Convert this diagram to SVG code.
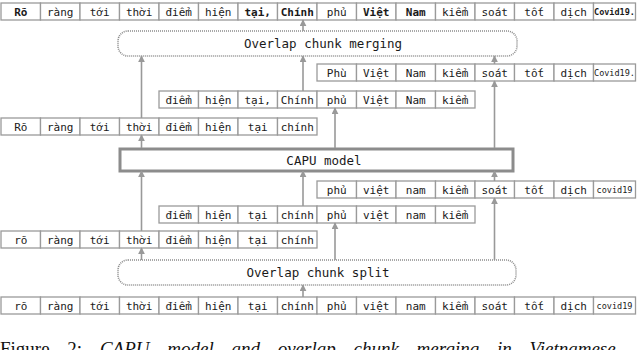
<svg xmlns="http://www.w3.org/2000/svg" width="640" height="350" viewBox="0 0 640 350">
<style>
.cell rect{fill:#fff;stroke:#9a9a9a;stroke-width:1.3}
.cell text{font-family:"DejaVu Sans Mono","Liberation Mono",monospace;font-size:11px;fill:#1a1a1a;text-anchor:middle}
.cell text.b{font-weight:bold}
.cell text.s{font-size:8.5px}
.dot{fill:#fff;stroke:#8c8c8c;stroke-width:1.6;stroke-dasharray:1 1}
.lbl{font-family:"DejaVu Sans Mono","Liberation Mono",monospace;font-size:12.5px;fill:#1a1a1a;text-anchor:middle}
.conn line{stroke:#999;stroke-width:1.6;marker-end:url(#ah)}
.cap{font-family:"Liberation Serif",serif;font-size:19px;fill:#111;word-spacing:13px}
</style>
<defs>
<marker id="ah" viewBox="0 0 10 10" refX="9" refY="5" markerWidth="7" markerHeight="7" markerUnits="userSpaceOnUse" orient="auto">
<path d="M0,0 L10,5 L0,10 z" fill="#999"/>
</marker>
</defs>

<g id="row-top" class="cell">
<rect x="1" y="3" width="39.5" height="17"/><text x="20.75" y="15.5" class="b">Rõ</text>
<rect x="40.5" y="3" width="39.5" height="17"/><text x="60.25" y="15.5">ràng</text>
<rect x="80" y="3" width="39.5" height="17"/><text x="99.75" y="15.5">tới</text>
<rect x="119.5" y="3" width="39.5" height="17"/><text x="139.25" y="15.5">thời</text>
<rect x="159" y="3" width="39.5" height="17"/><text x="178.75" y="15.5">điểm</text>
<rect x="198.5" y="3" width="39.5" height="17"/><text x="218.25" y="15.5">hiện</text>
<rect x="238" y="3" width="39.5" height="17"/><text x="257.75" y="15.5" class="b">tại,</text>
<rect x="277.5" y="3" width="39.5" height="17"/><text x="297.25" y="15.5" class="b">Chính</text>
<rect x="317" y="3" width="39.5" height="17"/><text x="336.75" y="15.5">phủ</text>
<rect x="356.5" y="3" width="39.5" height="17"/><text x="376.25" y="15.5" class="b">Việt</text>
<rect x="396" y="3" width="39.5" height="17"/><text x="415.75" y="15.5" class="b">Nam</text>
<rect x="435.5" y="3" width="39.5" height="17"/><text x="455.25" y="15.5">kiểm</text>
<rect x="475" y="3" width="39.5" height="17"/><text x="494.75" y="15.5">soát</text>
<rect x="514.5" y="3" width="39.5" height="17"/><text x="534.25" y="15.5">tốt</text>
<rect x="554" y="3" width="39.5" height="17"/><text x="573.75" y="15.5">dịch</text>
<rect x="593.5" y="3" width="42" height="17"/><text x="614.5" y="15" class="b s">Covid19.</text>
</g>

<g id="merging">
<rect class="dot" x="118" y="31" width="399" height="25" rx="10"/>
<text class="lbl" x="323" y="48">Overlap chunk merging</text>
</g>

<g id="row-chunk2-out" class="cell">
<rect x="317" y="64" width="39.5" height="17"/><text x="336.75" y="76.5">Phù</text>
<rect x="356.5" y="64" width="39.5" height="17"/><text x="376.25" y="76.5">Việt</text>
<rect x="396" y="64" width="39.5" height="17"/><text x="415.75" y="76.5">Nam</text>
<rect x="435.5" y="64" width="39.5" height="17"/><text x="455.25" y="76.5">kiểm</text>
<rect x="475" y="64" width="39.5" height="17"/><text x="494.75" y="76.5">soát</text>
<rect x="514.5" y="64" width="39.5" height="17"/><text x="534.25" y="76.5">tốt</text>
<rect x="554" y="64" width="39.5" height="17"/><text x="573.75" y="76.5">dịch</text>
<rect x="593.5" y="64" width="42" height="17"/><text x="614.5" y="76" class="s">Covid19.</text>
</g>

<g id="row-chunk1-out" class="cell">
<rect x="159" y="91" width="39.5" height="17"/><text x="178.75" y="103.5">điểm</text>
<rect x="198.5" y="91" width="39.5" height="17"/><text x="218.25" y="103.5">hiện</text>
<rect x="238" y="91" width="39.5" height="17"/><text x="257.75" y="103.5">tại,</text>
<rect x="277.5" y="91" width="39.5" height="17"/><text x="297.25" y="103.5">Chính</text>
<rect x="317" y="91" width="39.5" height="17"/><text x="336.75" y="103.5">phủ</text>
<rect x="356.5" y="91" width="39.5" height="17"/><text x="376.25" y="103.5">Việt</text>
<rect x="396" y="91" width="39.5" height="17"/><text x="415.75" y="103.5">Nam</text>
<rect x="435.5" y="91" width="39.5" height="17"/><text x="455.25" y="103.5">kiểm</text>
</g>

<g id="row-chunk0-out" class="cell">
<rect x="1" y="118" width="39.5" height="17"/><text x="20.75" y="130.5">Rõ</text>
<rect x="40.5" y="118" width="39.5" height="17"/><text x="60.25" y="130.5">ràng</text>
<rect x="80" y="118" width="39.5" height="17"/><text x="99.75" y="130.5">tới</text>
<rect x="119.5" y="118" width="39.5" height="17"/><text x="139.25" y="130.5">thời</text>
<rect x="159" y="118" width="39.5" height="17"/><text x="178.75" y="130.5">điểm</text>
<rect x="198.5" y="118" width="39.5" height="17"/><text x="218.25" y="130.5">hiện</text>
<rect x="238" y="118" width="39.5" height="17"/><text x="257.75" y="130.5">tại</text>
<rect x="277.5" y="118" width="39.5" height="17"/><text x="297.25" y="130.5">chính</text>
</g>

<g id="capu">
<rect x="120" y="149" width="393" height="22" fill="#fff" stroke="#8c8c8c" stroke-width="3"/>
<text class="lbl" x="324" y="164.5">CAPU model</text>
</g>

<g id="row-chunk2-in" class="cell">
<rect x="317" y="181" width="39.5" height="17"/><text x="336.75" y="193.5">phủ</text>
<rect x="356.5" y="181" width="39.5" height="17"/><text x="376.25" y="193.5">việt</text>
<rect x="396" y="181" width="39.5" height="17"/><text x="415.75" y="193.5">nam</text>
<rect x="435.5" y="181" width="39.5" height="17"/><text x="455.25" y="193.5">kiểm</text>
<rect x="475" y="181" width="39.5" height="17"/><text x="494.75" y="193.5">soát</text>
<rect x="514.5" y="181" width="39.5" height="17"/><text x="534.25" y="193.5">tốt</text>
<rect x="554" y="181" width="39.5" height="17"/><text x="573.75" y="193.5">dịch</text>
<rect x="593.5" y="181" width="42" height="17"/><text x="614.5" y="193" class="s">covid19</text>
</g>

<g id="row-chunk1-in" class="cell">
<rect x="159" y="206" width="39.5" height="17"/><text x="178.75" y="218.5">điểm</text>
<rect x="198.5" y="206" width="39.5" height="17"/><text x="218.25" y="218.5">hiện</text>
<rect x="238" y="206" width="39.5" height="17"/><text x="257.75" y="218.5">tại</text>
<rect x="277.5" y="206" width="39.5" height="17"/><text x="297.25" y="218.5">chính</text>
<rect x="317" y="206" width="39.5" height="17"/><text x="336.75" y="218.5">phủ</text>
<rect x="356.5" y="206" width="39.5" height="17"/><text x="376.25" y="218.5">việt</text>
<rect x="396" y="206" width="39.5" height="17"/><text x="415.75" y="218.5">nam</text>
<rect x="435.5" y="206" width="39.5" height="17"/><text x="455.25" y="218.5">kiểm</text>
</g>

<g id="row-chunk0-in" class="cell">
<rect x="1" y="231" width="39.5" height="17"/><text x="20.75" y="243.5">rõ</text>
<rect x="40.5" y="231" width="39.5" height="17"/><text x="60.25" y="243.5">ràng</text>
<rect x="80" y="231" width="39.5" height="17"/><text x="99.75" y="243.5">tới</text>
<rect x="119.5" y="231" width="39.5" height="17"/><text x="139.25" y="243.5">thời</text>
<rect x="159" y="231" width="39.5" height="17"/><text x="178.75" y="243.5">điểm</text>
<rect x="198.5" y="231" width="39.5" height="17"/><text x="218.25" y="243.5">hiện</text>
<rect x="238" y="231" width="39.5" height="17"/><text x="257.75" y="243.5">tại</text>
<rect x="277.5" y="231" width="39.5" height="17"/><text x="297.25" y="243.5">chính</text>
</g>

<g id="split">
<rect class="dot" x="118" y="260" width="398" height="25" rx="10"/>
<text class="lbl" x="318" y="277">Overlap chunk split</text>
</g>

<g id="row-input" class="cell">
<rect x="1" y="297" width="39.5" height="17"/><text x="20.75" y="309.5">rõ</text>
<rect x="40.5" y="297" width="39.5" height="17"/><text x="60.25" y="309.5">ràng</text>
<rect x="80" y="297" width="39.5" height="17"/><text x="99.75" y="309.5">tới</text>
<rect x="119.5" y="297" width="39.5" height="17"/><text x="139.25" y="309.5">thời</text>
<rect x="159" y="297" width="39.5" height="17"/><text x="178.75" y="309.5">điểm</text>
<rect x="198.5" y="297" width="39.5" height="17"/><text x="218.25" y="309.5">hiện</text>
<rect x="238" y="297" width="39.5" height="17"/><text x="257.75" y="309.5">tại</text>
<rect x="277.5" y="297" width="39.5" height="17"/><text x="297.25" y="309.5">chính</text>
<rect x="317" y="297" width="39.5" height="17"/><text x="336.75" y="309.5">phủ</text>
<rect x="356.5" y="297" width="39.5" height="17"/><text x="376.25" y="309.5">việt</text>
<rect x="396" y="297" width="39.5" height="17"/><text x="415.75" y="309.5">nam</text>
<rect x="435.5" y="297" width="39.5" height="17"/><text x="455.25" y="309.5">kiểm</text>
<rect x="475" y="297" width="39.5" height="17"/><text x="494.75" y="309.5">soát</text>
<rect x="514.5" y="297" width="39.5" height="17"/><text x="534.25" y="309.5">tốt</text>
<rect x="554" y="297" width="39.5" height="17"/><text x="573.75" y="309.5">dịch</text>
<rect x="593.5" y="297" width="42" height="17"/><text x="614.5" y="309" class="s">covid19</text>
</g>

<g id="connectors" class="conn">
<line x1="303" y1="31" x2="303" y2="20"/>
<line x1="141.5" y1="118" x2="141.5" y2="56"/>
<line x1="303" y1="91" x2="303" y2="56"/>
<line x1="494.5" y1="64" x2="494.5" y2="56"/>
<line x1="141.5" y1="148" x2="141.5" y2="135"/>
<line x1="335" y1="148" x2="335" y2="108"/>
<line x1="494.5" y1="148" x2="494.5" y2="81"/>
<line x1="141.5" y1="231" x2="141.5" y2="171"/>
<line x1="303" y1="206" x2="303" y2="171"/>
<line x1="494.5" y1="181" x2="494.5" y2="171"/>
<line x1="141.5" y1="260" x2="141.5" y2="248"/>
<line x1="335" y1="260" x2="335" y2="223"/>
<line x1="494.5" y1="260" x2="494.5" y2="198"/>
<line x1="303" y1="297" x2="303" y2="285"/>
</g>

<text class="cap" x="0" y="355">Figure 2: <tspan font-style="italic">CAPU model and overlap chunk merging in Vietnamese</tspan></text>
</svg>
